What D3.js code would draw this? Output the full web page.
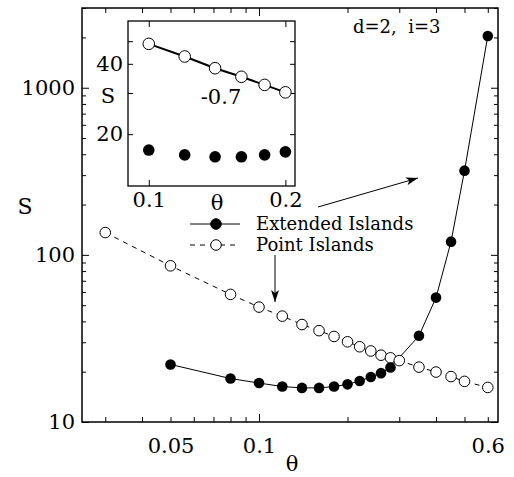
<!DOCTYPE html>
<meta charset="utf-8">
<script src="https://d3js.org/d3.v7.min.js"></script>
<style>
  body { margin: 0; background: #fff; }
  text { font-family: "DejaVu Serif", serif; fill: #000; }
</style>
<div id="my_dataviz"></div>
<script>
    // data
    var thetaPoint = [0.03, 0.05, 0.08, 0.1, 0.12, 0.14, 0.16, 0.18, 0.2, 0.22, 0.24, 0.26, 0.28, 0.3, 0.35, 0.4, 0.45, 0.5, 0.6]
    var sPoint = [136, 86, 58, 48.7, 43, 38.3, 35.2, 32.5, 30.2, 28.2, 26.6, 25.1, 24.2, 23.3, 21.3, 19.9, 18.7, 17.5, 16.1]
    var thetaExt = [0.05, 0.08, 0.1, 0.12, 0.14, 0.16, 0.18, 0.2, 0.22, 0.24, 0.26, 0.28, 0.35, 0.4, 0.45, 0.5, 0.6]
    var sExt = [22.1, 18.2, 17.1, 16.3, 16.0, 16.0, 16.3, 16.8, 17.6, 18.6, 19.6, 21.2, 32.8, 55.5, 120, 319, 2040]

    var xMajor = [0.05, 0.1, 0.6]
    var xMinor = [0.03, 0.04, 0.05, 0.06, 0.07, 0.08, 0.09, 0.2, 0.3, 0.4, 0.5, 0.6]
    var yMajor = [10, 100, 1000]
    var yMinor = [20, 30, 40, 50, 60, 70, 80, 90, 200, 300, 400, 500, 600, 700, 800, 900, 2000, 3000]
    var insetXTicks = [0.1, 0.2]
    var insetYTicks = [20, 30, 40, 50]
    var insetYLabels = [20, 40]

    var pointData = thetaPoint.map(function(t, i){ return {t: t, s: sPoint[i]} })
    var extData = thetaExt.map(function(t, i){ return {t: t, s: sExt[i]} })

    var W = 514, H = 477
    var svg = d3.select("#my_dataviz")
      .append("svg")
        .attr("width", W)
        .attr("height", H)

    svg.append("defs").append("marker")
        .attr("id", "head")
        .attr("viewBox", "0 0 12 8")
        .attr("refX", 12)
        .attr("refY", 4)
        .attr("markerWidth", 12)
        .attr("markerHeight", 8)
        .attr("markerUnits", "userSpaceOnUse")
        .attr("orient", "auto")
      .append("path")
        .attr("d", "M0,0 L12,4 L0,8 L3,4 Z")
        .attr("fill", "#000")

    // main scales
    var x = d3.scaleLog().domain([0.025, 0.65]).range([82, 498])
    var y = d3.scaleLog().domain([10, 3000]).range([422, 8])

    function styleAxis(g) {
      g.select(".domain").remove()
      g.selectAll("line").attr("stroke", "#000").attr("stroke-width", 1)
      g.selectAll("text").style("font-size", "21px").style("font-family", "DejaVu Serif")
    }

    // bottom / top ticks
    svg.append("g").attr("transform", "translate(0,422)")
      .call(d3.axisBottom(x).tickValues(xMinor).tickSize(-5).tickFormat(""))
      .call(styleAxis)
    svg.append("g").attr("transform", "translate(0,422)")
      .call(d3.axisBottom(x).tickValues([0.1]).tickSize(-8).tickFormat(""))
      .call(styleAxis)
    svg.append("g").attr("transform", "translate(0,422)")
      .call(d3.axisBottom(x).tickValues(xMajor).tickSize(0).tickPadding(16).tickFormat(d3.format("")))
      .call(styleAxis)
    svg.append("g").attr("transform", "translate(0,8)")
      .call(d3.axisTop(x).tickValues(xMinor).tickSize(-5).tickFormat(""))
      .call(styleAxis)
    svg.append("g").attr("transform", "translate(0,8)")
      .call(d3.axisTop(x).tickValues([0.1]).tickSize(-8).tickFormat(""))
      .call(styleAxis)

    // left / right ticks
    svg.append("g").attr("transform", "translate(82,0)")
      .call(d3.axisLeft(y).tickValues(yMinor).tickSize(-4).tickFormat(""))
      .call(styleAxis)
    svg.append("g").attr("transform", "translate(82,0)")
      .call(d3.axisLeft(y).tickValues(yMajor).tickSize(-7).tickPadding(7).tickFormat(d3.format("")))
      .call(styleAxis)
    svg.append("g").attr("transform", "translate(498,0)")
      .call(d3.axisRight(y).tickValues(yMinor).tickSize(-4).tickFormat(""))
      .call(styleAxis)
    svg.append("g").attr("transform", "translate(498,0)")
      .call(d3.axisRight(y).tickValues(yMajor).tickSize(-7).tickFormat(""))
      .call(styleAxis)

    // frame
    svg.append("rect")
        .attr("x", 82).attr("y", 8)
        .attr("width", 416).attr("height", 414)
        .attr("fill", "none").attr("stroke", "#000").attr("stroke-width", 1.5)

    // axis titles
    svg.append("text").attr("x", 25).attr("y", 214).attr("text-anchor", "middle")
        .style("font-size", "22px").text("S")
    svg.append("text").attr("x", 292).attr("y", 471).attr("text-anchor", "middle")
        .style("font-size", "21px").text("θ")
    svg.append("text").attr("x", 353).attr("y", 33)
        .style("font-size", "18px").style("white-space", "pre").text("d=2,  i=3")

    // series lines
    var line = d3.line().x(function(d){ return x(d.t) }).y(function(d){ return y(d.s) })
    svg.append("path").datum(pointData)
        .attr("d", line).attr("fill", "none").attr("stroke", "#000")
        .attr("stroke-width", 1).attr("stroke-dasharray", "5,5")
    svg.append("path").datum(extData)
        .attr("d", line).attr("fill", "none").attr("stroke", "#000").attr("stroke-width", 1)

    svg.selectAll(".pt").data(pointData).enter().append("circle")
        .attr("cx", function(d){ return x(d.t) }).attr("cy", function(d){ return y(d.s) })
        .attr("r", 5.3).attr("fill", "#fff").attr("stroke", "#000").attr("stroke-width", 1)
    svg.selectAll(".ex").data(extData).enter().append("circle")
        .attr("cx", function(d){ return x(d.t) }).attr("cy", function(d){ return y(d.s) })
        .attr("r", 5.3).attr("fill", "#000")

    // legend
    var legend = [{label: "Extended Islands", y: 224, fill: "#000", dash: null},
                  {label: "Point Islands", y: 245, fill: "#fff", dash: "5,5"}]
    legend.forEach(function(l){
      svg.append("line").attr("x1", 190).attr("x2", 240).attr("y1", l.y).attr("y2", l.y)
          .attr("stroke", "#000").attr("stroke-width", 1).attr("stroke-dasharray", l.dash)
      svg.append("circle").attr("cx", 216).attr("cy", l.y).attr("r", 5.3)
          .attr("fill", l.fill).attr("stroke", "#000").attr("stroke-width", 1)
      svg.append("text").attr("x", 256).attr("y", l.y + 6)
          .style("font-size", "18px").text(l.label)
    })

    // arrows
    svg.append("line").attr("x1", 318).attr("y1", 207).attr("x2", 418).attr("y2", 178)
        .attr("stroke", "#000").attr("stroke-width", 1).attr("marker-end", "url(#head)")
    svg.append("line").attr("x1", 275).attr("y1", 255).attr("x2", 275).attr("y2", 302)
        .attr("stroke", "#000").attr("stroke-width", 1).attr("marker-end", "url(#head)")

    // inset
    var xi = d3.scaleLog().domain([0.09, 0.21]).range([128, 295])
    var yi = d3.scaleLog().domain([12, 61]).range([186, 21])
    var inset = svg.append("g")
    inset.append("rect").attr("x", 128).attr("y", 21).attr("width", 167).attr("height", 165)
        .attr("fill", "#fff")

    inset.append("g").attr("transform", "translate(0,186)")
      .call(d3.axisBottom(xi).tickValues(insetXTicks).tickSize(-6).tickPadding(6).tickFormat(d3.format("")))
      .call(styleAxis)
    inset.append("g").attr("transform", "translate(0,21)")
      .call(d3.axisTop(xi).tickValues(insetXTicks).tickSize(-6).tickFormat(""))
      .call(styleAxis)
    inset.append("g").attr("transform", "translate(128,0)")
      .call(d3.axisLeft(yi).tickValues(insetYTicks).tickSize(-5).tickPadding(5)
        .tickFormat(function(d){ return insetYLabels.indexOf(d) >= 0 ? d : "" }))
      .call(styleAxis)
    inset.append("g").attr("transform", "translate(295,0)")
      .call(d3.axisRight(yi).tickValues(insetYTicks).tickSize(-5).tickFormat(""))
      .call(styleAxis)
    inset.append("rect").attr("x", 128).attr("y", 21).attr("width", 167).attr("height", 165)
        .attr("fill", "none").attr("stroke", "#000").attr("stroke-width", 1.3)

    inset.append("text").attr("x", 108).attr("y", 103).attr("text-anchor", "middle")
        .style("font-size", "21px").text("S")
    inset.append("text").attr("x", 217).attr("y", 210).attr("text-anchor", "middle")
        .style("font-size", "21px").text("θ")
    inset.append("text").attr("x", 221).attr("y", 104).attr("text-anchor", "middle")
        .style("font-size", "21px").text("-0.7")

    var insetPoint = pointData.filter(function(d){ return d.t >= 0.1 && d.t <= 0.2 })
    var insetExt = extData.filter(function(d){ return d.t >= 0.1 && d.t <= 0.2 })
    inset.append("path").datum(insetPoint)
        .attr("d", d3.line().x(function(d){ return xi(d.t) }).y(function(d){ return yi(d.s) }))
        .attr("fill", "none").attr("stroke", "#000").attr("stroke-width", 2)
    inset.selectAll(".ipt").data(insetPoint).enter().append("circle")
        .attr("cx", function(d){ return xi(d.t) }).attr("cy", function(d){ return yi(d.s) })
        .attr("r", 5.8).attr("fill", "#fff").attr("stroke", "#000").attr("stroke-width", 1)
    inset.selectAll(".iex").data(insetExt).enter().append("circle")
        .attr("cx", function(d){ return xi(d.t) }).attr("cy", function(d){ return yi(d.s) })
        .attr("r", 5.8).attr("fill", "#000")
</script>
